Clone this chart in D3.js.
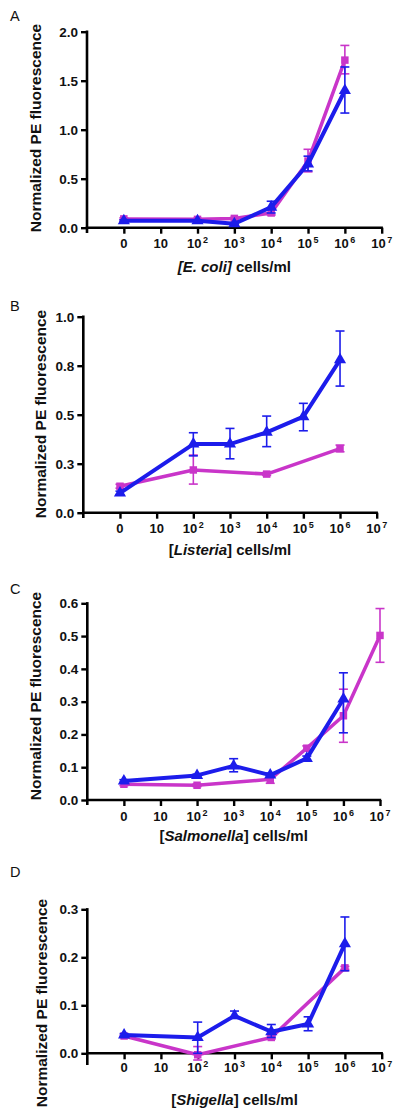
<!DOCTYPE html>
<html><head><meta charset="utf-8">
<script src="https://cdn.jsdelivr.net/npm/d3@7"></script>
<style>body{margin:0;background:#fff}svg{display:block}</style>
</head><body><svg id="c" width="400" height="1118"></svg>
<script>
// ---------- data ----------
const categories = ["0","10","10^2","10^3","10^4","10^5","10^6","10^7"];
const panelLetters = ["A","B","C","D"];
const organisms = ["E. coli","Listeria","Salmonella","Shigella"];
const yTitle = "Normalized PE fluorescence";

const yTicksA = [0,0.5,1,1.5,2];      const yLabelsA = ["0.0","0.5","1.0","1.5","2.0"];
const yTicksB = [0,0.25,0.5,0.75,1];  const yLabelsB = ["0.0","0.3","0.5","0.8","1.0"];
const yTicksC = [0,0.1,0.2,0.3,0.4,0.5,0.6]; const yLabelsC = ["0.0","0.1","0.2","0.3","0.4","0.5","0.6"];
const yTicksD = [0,0.1,0.2,0.3];      const yLabelsD = ["0.0","0.1","0.2","0.3"];

// Panel A (E. coli)
const magA_x  = [0,2,3,4,5,6];
const magA_y  = [0.09,0.085,0.095,0.15,0.68,1.71];
const magA_lo = [0.08,0.075,0.085,0.13,0.57,1.57];
const magA_hi = [0.10,0.095,0.105,0.19,0.80,1.86];
const bluA_x  = [0,2,3,4,5,6];
const bluA_y  = [0.07,0.07,0.04,0.21,0.65,1.40];
const bluA_lo = [0.06,0.06,0.03,0.15,0.58,1.17];
const bluA_hi = [0.08,0.08,0.05,0.27,0.73,1.64];

// Panel B (Listeria)
const magB_x  = [0,2,4,6];
const magB_y  = [0.135,0.218,0.197,0.327];
const magB_lo = [0.125,0.146,0.19,0.311];
const magB_hi = [0.145,0.294,0.205,0.345];
const bluB_x  = [0,2,3,4,5,6];
const bluB_y  = [0.10,0.35,0.35,0.41,0.49,0.78];
const bluB_lo = [0.09,0.29,0.275,0.337,0.418,0.646];
const bluB_hi = [0.11,0.408,0.43,0.493,0.558,0.927];

// Panel C (Salmonella)
const magC_x  = [0,2,4,5,6,7];
const magC_y  = [0.048,0.045,0.063,0.158,0.257,0.502];
const magC_lo = [0.044,0.041,0.051,0.15,0.176,0.42];
const magC_hi = [0.052,0.049,0.075,0.165,0.338,0.584];
const bluC_x  = [0,2,3,4,5,6];
const bluC_y  = [0.058,0.075,0.104,0.076,0.127,0.308];
const bluC_lo = [0.054,0.071,0.086,0.07,0.12,0.205];
const bluC_hi = [0.062,0.079,0.126,0.082,0.134,0.388];

// Panel D (Shigella)
const magD_x  = [0,2,4,6];
const magD_y  = [0.036,-0.003,0.033,0.178];
const magD_lo = [0.034,-0.014,0.03,0.175];
const magD_hi = [0.038,0.014,0.036,0.181];
const bluD_x  = [0,2,3,4,5,6];
const bluD_y  = [0.038,0.033,0.078,0.045,0.061,0.228];
const bluD_lo = [0.035,0.0,0.073,0.033,0.047,0.172];
const bluD_hi = [0.041,0.065,0.088,0.06,0.076,0.284];

// ---------- layout ----------
const MAG = "#c935c9", BLU = "#1c1ceb";
const FONT = "'Liberation Sans', Arial, Helvetica, sans-serif";
const svg = d3.select("#c");

const panels = [
  {letter:panelLetters[0], org:organisms[0], italBr:true, ticks:yTicksA, labels:yLabelsA, ymax:2.0,
   left:87, x7:381.7, yTop:31.7, yZero:227.7, axBot:233, tickBase:248, titleBase:272, letterY:21, yTitleC:128, yTitleX:41,
   mag:[magA_x,magA_y,magA_lo,magA_hi], blu:[bluA_x,bluA_y,bluA_lo,bluA_hi]},
  {letter:panelLetters[1], org:organisms[1], italBr:false, ticks:yTicksB, labels:yLabelsB, ymax:1.0,
   left:83.3, x7:376.7, yTop:316.7, yZero:512.7, axBot:518, tickBase:533, titleBase:555, letterY:311, yTitleC:414, yTitleX:46,
   mag:[magB_x,magB_y,magB_lo,magB_hi], blu:[bluB_x,bluB_y,bluB_lo,bluB_hi]},
  {letter:panelLetters[2], org:organisms[2], italBr:false, ticks:yTicksC, labels:yLabelsC, ymax:0.6,
   left:87.3, x7:380, yTop:603.3, yZero:800, axBot:805, tickBase:821, titleBase:841, letterY:594, yTitleC:696, yTitleX:41,
   mag:[magC_x,magC_y,magC_lo,magC_hi], blu:[bluC_x,bluC_y,bluC_lo,bluC_hi]},
  {letter:panelLetters[3], org:organisms[3], italBr:false, ticks:yTicksD, labels:yLabelsD, ymax:0.3,
   left:87.3, x7:381.7, yTop:909.3, yZero:1053.3, axBot:1065, tickBase:1072, titleBase:1105, letterY:877, yTitleC:1003, yTitleX:47,
   mag:[magD_x,magD_y,magD_lo,magD_hi], blu:[bluD_x,bluD_y,bluD_lo,bluD_hi]}
];

function drawSeries(g, x, y, s, color, marker, lw) {
  const [xs, ys, lo, hi] = s;
  const pts = xs.map((v,i)=>({x:v, y:ys[i], lo:lo[i], hi:hi[i]}));
  const eb = g.append("g").attr("stroke", color).attr("stroke-width", 1.6).attr("fill","none");
  pts.forEach(p => {
    const cx = x(p.x);
    eb.append("line").attr("x1",cx).attr("x2",cx).attr("y1",y(p.lo)).attr("y2",y(p.hi));
    eb.append("line").attr("x1",cx-4.5).attr("x2",cx+4.5).attr("y1",y(p.lo)).attr("y2",y(p.lo));
    eb.append("line").attr("x1",cx-4.5).attr("x2",cx+4.5).attr("y1",y(p.hi)).attr("y2",y(p.hi));
  });
  g.append("path").datum(pts)
    .attr("d", d3.line().x(d=>x(d.x)).y(d=>y(d.y)))
    .attr("fill","none").attr("stroke",color).attr("stroke-width",lw).attr("stroke-linejoin","round");
  const sym = d3.symbol().type(marker).size(marker===d3.symbolSquare?56:64);
  g.selectAll(null).data(pts).enter().append("path")
    .attr("d", sym).attr("fill", color)
    .attr("transform", d=>`translate(${x(d.x)},${y(d.y)})`);
}

panels.forEach(P => {
  const g = svg.append("g");
  const x = d3.scaleLinear().domain([-1,7]).range([P.left, P.x7]);
  const y = d3.scaleLinear().domain([0,P.ymax]).range([P.yZero, P.yTop]);

  g.append("text").attr("x",10).attr("y",P.letterY).text(P.letter)
    .attr("font-family",FONT).attr("font-size",14.5).attr("fill","#111");

  // y axis
  const ya = g.append("g").attr("transform",`translate(${P.left},0)`)
    .call(d3.axisLeft(y).tickValues(P.ticks).tickFormat((d,i)=>P.labels[i]).tickSize(6).tickPadding(3));
  ya.select(".domain").remove();
  ya.selectAll(".tick line").attr("stroke","#000").attr("stroke-width",2.4);
  ya.selectAll(".tick text").attr("font-family",FONT).attr("font-size",13.5).attr("font-weight","bold").attr("fill","#111");
  g.append("line").attr("x1",P.left).attr("x2",P.left).attr("y1",y(P.ymax)-1.2).attr("y2",P.axBot)
    .attr("stroke","#000").attr("stroke-width",2.6);

  // x axis
  const xa = g.append("g").attr("transform",`translate(0,${P.yZero})`)
    .call(d3.axisBottom(x).tickValues(d3.range(categories.length)).tickFormat(()=>"").tickSize(6));
  xa.select(".domain").remove();
  xa.selectAll(".tick line").attr("stroke","#000").attr("stroke-width",2.4);
  g.append("line").attr("x1",P.left-1.3).attr("x2",x(7)+1.2).attr("y1",P.yZero).attr("y2",P.yZero)
    .attr("stroke","#000").attr("stroke-width",2.6);
  categories.forEach((c,i) => {
    const t = g.append("text").attr("x",x(i)).attr("y",P.tickBase).attr("text-anchor","middle")
      .attr("font-family",FONT).attr("font-size",13).attr("font-weight","bold").attr("fill","#111");
    const parts = c.split("^");
    t.append("tspan").text(parts[0]);
    if (parts[1]) t.append("tspan").attr("dy",-5.5).attr("dx",1.5).attr("font-size",9).text(parts[1]);
  });

  // x title
  const xt = g.append("text").attr("x",(P.left+P.x7)/2).attr("y",P.titleBase).attr("text-anchor","middle")
    .attr("font-family",FONT).attr("font-size",15).attr("font-weight","bold").attr("fill","#111");
  if (P.italBr) {
    xt.append("tspan").attr("font-style","italic").text("[" + P.org + "]");
  } else {
    xt.append("tspan").text("[");
    xt.append("tspan").attr("font-style","italic").text(P.org);
    xt.append("tspan").text("]");
  }
  xt.append("tspan").text(" cells/ml");

  // y title
  g.append("text").attr("transform",`translate(${P.yTitleX},${P.yTitleC}) rotate(-90)`).attr("text-anchor","middle")
    .attr("font-family",FONT).attr("font-size",15.5).attr("font-weight","bold").attr("fill","#111").text(yTitle);

  drawSeries(g, x, y, P.mag, MAG, d3.symbolSquare, 3.5);
  drawSeries(g, x, y, P.blu, BLU, d3.symbolTriangle, 4);
});
</script>
</body></html>
